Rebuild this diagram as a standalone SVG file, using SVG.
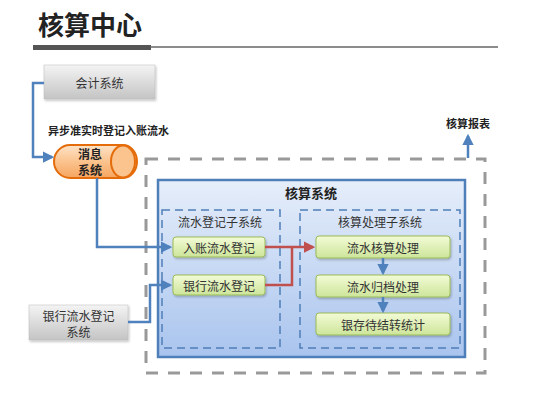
<svg xmlns="http://www.w3.org/2000/svg" width="550" height="412" viewBox="0 0 550 412">
<defs>
<linearGradient id="gGray" x1="0" y1="0" x2="0" y2="1"><stop offset="0" stop-color="#f4f4f4"/><stop offset="1" stop-color="#c4c4c4"/></linearGradient>
<linearGradient id="gGreen" x1="0" y1="0" x2="0" y2="1"><stop offset="0" stop-color="#f3fbd6"/><stop offset="1" stop-color="#cde59a"/></linearGradient>
<linearGradient id="gBlue" x1="0" y1="0" x2="0" y2="1"><stop offset="0" stop-color="#e6eefa"/><stop offset="1" stop-color="#a9c4ee"/></linearGradient>
<linearGradient id="gOrange" x1="0" y1="0" x2="0" y2="1"><stop offset="0" stop-color="#fde3c8"/><stop offset="0.5" stop-color="#fbc38e"/><stop offset="1" stop-color="#f6a560"/></linearGradient>
<marker id="aBlue" viewBox="0 0 10 10" refX="8" refY="5" markerWidth="4.5" markerHeight="4.5" orient="auto"><path d="M0,0 L10,5 L0,10 Z" fill="#4f81bd"/></marker>
<marker id="aRed" viewBox="0 0 10 10" refX="8" refY="5" markerWidth="4.5" markerHeight="4.5" orient="auto"><path d="M0,0 L10,5 L0,10 Z" fill="#c0504d"/></marker>
<filter id="sh" x="-10%" y="-10%" width="130%" height="140%"><feDropShadow dx="1" dy="1.5" stdDeviation="1" flood-color="#000" flood-opacity="0.25"/></filter>
</defs>
<style>
text{font-family:"Noto Sans CJK SC","Noto Sans",sans-serif;fill:#333;}
.t{font-size:12px;text-anchor:middle;dominant-baseline:central;}
.b{font-weight:bold;fill:#222;}
.bl{fill:none;stroke:#4f81bd;stroke-width:2.5;}
.rd{fill:none;stroke:#c0504d;stroke-width:2.5;}
.grn{fill:url(#gGreen);stroke:#9bbb59;stroke-width:1;}
.gry{fill:url(#gGray);stroke:#bbb;stroke-width:0.5;}
</style>
<rect width="550" height="412" fill="#fff"/>
<text x="38" y="35" font-size="26" class="b">核算中心</text>
<rect x="33" y="45" width="118" height="5" fill="#555"/>
<line x1="150" y1="47" x2="498" y2="47" stroke="#666" stroke-width="1.5"/>

<g id="outer">
<path d="M146,159 H485 V373 H146 Z" fill="none" stroke="#999" stroke-width="3" stroke-dasharray="12,10"/>
</g>
<g id="accsys">
<rect x="158" y="180" width="307" height="177" fill="url(#gBlue)" stroke="#4f7fb8" stroke-width="2.5"/>
<text x="285" y="192" font-size="13" class="b" dominant-baseline="central">核算系统</text>
</g>
<g id="sub1">
<rect x="162" y="210" width="118" height="138" fill="none" stroke="#4f7fb8" stroke-width="1.5" stroke-dasharray="8,5"/>
<text x="220" y="221" class="t">流水登记子系统</text>
</g>
<g id="sub2">
<rect x="300" y="210" width="160" height="138" fill="none" stroke="#4f7fb8" stroke-width="1.5" stroke-dasharray="8,5"/>
<text x="380" y="221" class="t">核算处理子系统</text>
</g>

<g id="kuaiji">
<rect x="44" y="65" width="111" height="34" class="gry" filter="url(#sh)"/>
<text x="99.5" y="82" class="t" font-size="13">会计系统</text>
</g>
<g id="label-async"><text x="48" y="130" font-size="11" class="b" dominant-baseline="central">异步准实时登记入账流水</text></g>
<g id="xiaoxi">
<path d="M70,145 H123 A14,16.5 0 0 1 123,178 H70 A16,16.5 0 0 1 70,145 Z" fill="url(#gOrange)" stroke="#e46c0a" stroke-width="2"/>
<ellipse cx="123" cy="161.5" rx="12" ry="16" fill="#fbc38e" stroke="#e46c0a" stroke-width="2"/>
<text x="90" y="153.5" class="t b" font-size="10.5">消息</text>
<text x="90" y="169.5" class="t b" font-size="10.5">系统</text>
</g>
<g id="yinhangsys">
<rect x="29" y="305" width="99" height="35" class="gry" filter="url(#sh)"/>
<text x="78.5" y="315.5" class="t" font-size="13">银行流水登记</text>
<text x="78.5" y="331" class="t" font-size="13">系统</text>
</g>
<g id="baobiao"><text x="468" y="123" font-size="11" class="b" text-anchor="middle" dominant-baseline="central">核算报表</text></g>

<g id="n1"><rect x="173" y="237" width="92" height="20" rx="3" class="grn" filter="url(#sh)"/><text x="219" y="247" class="t">入账流水登记</text></g>
<g id="n2"><rect x="173" y="275" width="92" height="20" rx="3" class="grn" filter="url(#sh)"/><text x="219" y="285" class="t">银行流水登记</text></g>
<g id="n3"><rect x="316" y="236" width="134" height="22" rx="3" class="grn" filter="url(#sh)"/><text x="383" y="247" class="t">流水核算处理</text></g>
<g id="n4"><rect x="316" y="275" width="134" height="22" rx="3" class="grn" filter="url(#sh)"/><text x="383" y="286" class="t">流水归档处理</text></g>
<g id="n5"><rect x="316" y="313" width="134" height="22" rx="3" class="grn" filter="url(#sh)"/><text x="383" y="324" class="t">银存待结转统计</text></g>

<g id="connectors">
<path class="bl" d="M44,83 H33 V157 H52" marker-end="url(#aBlue)"/>
<path class="bl" d="M97,178 V247 H170" marker-end="url(#aBlue)"/>
<path class="bl" d="M128,322 H150 V285 H170" marker-end="url(#aBlue)"/>
<path class="bl" d="M468,158 V136" marker-end="url(#aBlue)"/>
<path class="bl" d="M383,258 V273" marker-end="url(#aBlue)"/>
<path class="bl" d="M383,297 V311" marker-end="url(#aBlue)"/>
<path class="rd" d="M265,247 H313" marker-end="url(#aRed)"/>
<path class="rd" d="M265,285 H292 V247"/>
</g>
</svg>
